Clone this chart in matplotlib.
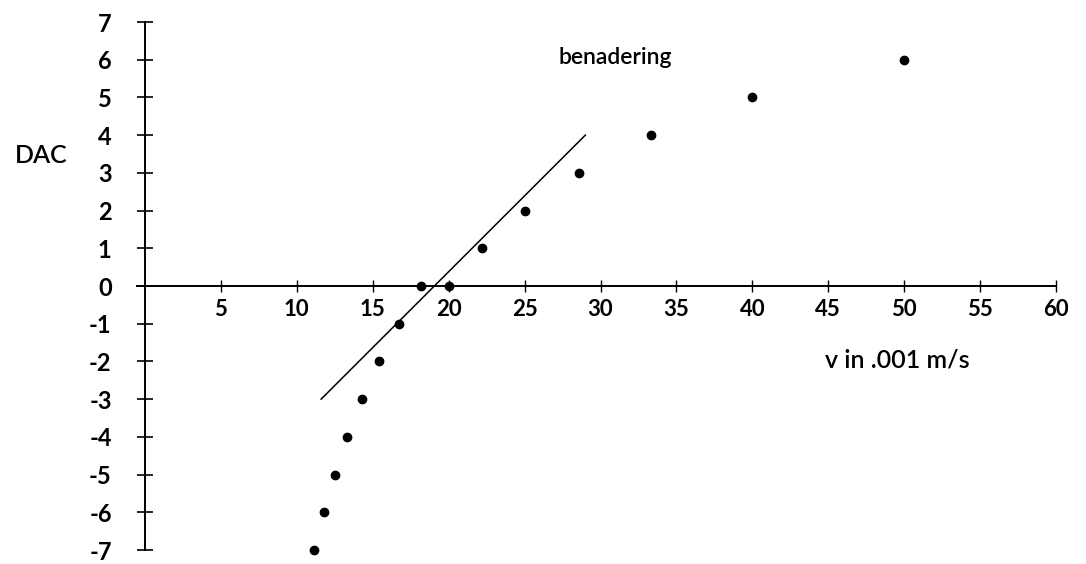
import matplotlib
matplotlib.use("Agg")
import matplotlib.pyplot as plt

# measured points: speed (0.001 m/s) vs DAC setting
v = [11.1, 11.8, 12.5, 13.3, 14.3, 15.4, 16.7, 18.2, 20.0, 22.2, 25.0, 28.6, 33.3, 40.0, 50.0]
dac = [-7, -6, -5, -4, -3, -2, -1, 0, 0, 1, 2, 3, 4, 5, 6]

# straight-line approximation ("benadering")
line_v = [11.6, 29.0]
line_dac = [-3, 4]

xticks = [5, 10, 15, 20, 25, 30, 35, 40, 45, 50, 55, 60]
yticks = [-7, -6, -5, -4, -3, -2, -1, 0, 1, 2, 3, 4, 5, 6, 7]

plt.rcParams['font.family'] = ['Lato', 'DejaVu Sans']
plt.rcParams['axes.unicode_minus'] = False

fig = plt.figure(figsize=(10.86, 5.64), dpi=100)
ax = fig.add_axes([145 / 1086, 14 / 564, 911 / 1086, 528 / 564])
ax.set_xlim(0, 60)
ax.set_ylim(-7, 7)

ax.plot(line_v, line_dac, color='black', lw=1.1, clip_on=False)
ax.plot(v, dac, 'o', color='black', ms=6, clip_on=False)

for s in ['top', 'right']:
    ax.spines[s].set_visible(False)
ax.spines['left'].set_position(('data', 0))
ax.spines['bottom'].set_position(('data', 0))
ax.spines['left'].set_linewidth(1.4)
ax.spines['bottom'].set_linewidth(1.4)
ax.spines['bottom'].set_bounds(-0.5, 60)

ax.set_xticks(xticks)
ax.set_yticks(yticks)
ax.tick_params(axis='x', direction='inout', length=8, width=1, pad=5, labelsize=16)
ax.tick_params(axis='y', direction='inout', length=12, width=1.2, pad=18, labelsize=17)
for lab in ax.get_yticklabels() + ax.get_xticklabels():
    lab.set_fontweight('bold')

ax.text(-8.6, 3.45, 'DAC', fontsize=18, fontweight='semibold', ha='left', va='center')
ax.text(31.0, 6.05, 'benadering', fontsize=16.5, fontweight='semibold', ha='center', va='center')
ax.text(44.8, -1.97, 'v in .001 m/s', fontsize=18, fontweight='semibold', ha='left', va='center')

fig.savefig('out.png', dpi=100)
